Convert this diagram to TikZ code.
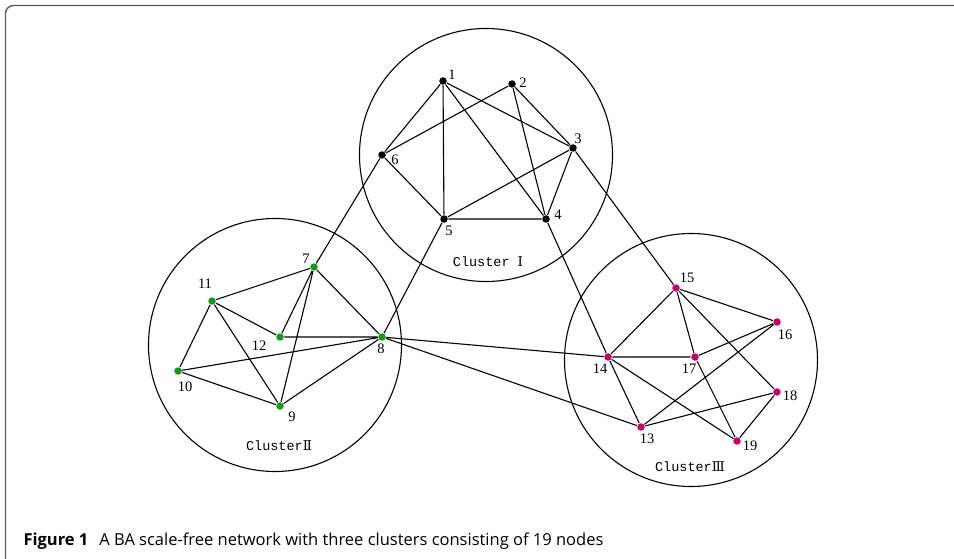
\documentclass[tikz,border=0pt]{standalone}
\usepackage{fontspec}
\setmainfont{Liberation Serif}
\newfontfamily\clusterfont{Liberation Mono}
\newfontfamily\romanfont{DejaVu Serif}
\newfontfamily\captionfont{Open Sans}
\usepackage{tikz}
\definecolor{FrameGray}{HTML}{5A5A5A}
\definecolor{NodeGreen}{HTML}{149A14}
\definecolor{NodeMagenta}{HTML}{C4006C}

\begin{document}
\begin{tikzpicture}[x=1pt, y=-1pt, line width=1.1pt,
        cluster/.style={draw, circle, minimum size=253pt, inner sep=0pt},
        dot/.style={circle, fill=#1, inner sep=0pt, minimum size=7.5pt},
        num/.style={font=\fontsize{14.5}{15}\selectfont, inner sep=0pt},
        ctext/.style={font=\clusterfont\fontsize{13.5}{14}\selectfont, inner sep=0pt}]
        \useasboundingbox (0,0) rectangle (954,559);

        % Frame
        \draw[FrameGray, line width=1.4pt, rounded corners=8pt]
            (5.5,559) -- (5.5,5.5) -- (954,5.5);

        % Cluster circles
        \node[cluster] (c1) at (486,155) {};
        \node[cluster] (c2) at (275,345) {};
        \node[cluster] (c3) at (691,360) {};

        % Cluster I
        \node[dot=black] (n1) at (443,81)  {};
        \node[dot=black] (n2) at (512,84)  {};
        \node[dot=black] (n3) at (573,148) {};
        \node[dot=black] (n4) at (546,219) {};
        \node[dot=black] (n5) at (444,219) {};
        \node[dot=black] (n6) at (382,155) {};

        % Cluster II
        \node[dot=NodeGreen] (n7)  at (314,267) {};
        \node[dot=NodeGreen] (n8)  at (382,337) {};
        \node[dot=NodeGreen] (n9)  at (280,406) {};
        \node[dot=NodeGreen] (n10) at (178,371) {};
        \node[dot=NodeGreen] (n11) at (212,301) {};
        \node[dot=NodeGreen] (n12) at (280,337) {};

        % Cluster III
        \node[dot=NodeMagenta] (n13) at (641,427) {};
        \node[dot=NodeMagenta] (n14) at (608,357) {};
        \node[dot=NodeMagenta] (n15) at (676,288) {};
        \node[dot=NodeMagenta] (n16) at (777,322) {};
        \node[dot=NodeMagenta] (n17) at (695,357) {};
        \node[dot=NodeMagenta] (n18) at (777,392) {};
        \node[dot=NodeMagenta] (n19) at (737,441) {};

        % Edges inside the clusters
        \draw (n1) -- (n6) (n1) -- (n5) (n1) -- (n3) (n1) -- (n4);
        \draw (n2) -- (n6) (n2) -- (n3) (n2) -- (n4);
        \draw (n6) -- (n5) (n5) -- (n4) (n5) -- (n3) (n3) -- (n4);
        \draw (n7) -- (n11) (n7) -- (n12) (n7) -- (n9) (n7) -- (n8);
        \draw (n11) -- (n12) (n11) -- (n10) (n11) -- (n9);
        \draw (n12) -- (n8) (n10) -- (n8) (n10) -- (n9) (n9) -- (n8);
        \draw (n15) -- (n14) (n15) -- (n17) (n15) -- (n16) (n15) -- (n18);
        \draw (n14) -- (n17) (n14) -- (n13) (n14) -- (n19);
        \draw (n17) -- (n16) (n17) -- (n19) (n16) -- (n13);
        \draw (n13) -- (n18) (n18) -- (n19);

        % Edges between the clusters
        \draw (n6) -- (n7) (n5) -- (n8) (n3) -- (n15) (n4) -- (n14);
        \draw (n8) -- (n14) (n8) -- (n13);

        % Node numbers
        \node[num] (t1)  at (452,75)  {1};
        \node[num] (t2)  at (523,83)  {2};
        \node[num] (t3)  at (578,139) {3};
        \node[num] (t4)  at (558,215) {4};
        \node[num] (t5)  at (449,231) {5};
        \node[num] (t6)  at (395,160) {6};
        \node[num] (t7)  at (306,259) {7};
        \node[num] (t8)  at (381,349) {8};
        \node[num] (t9)  at (292,417) {9};
        \node[num] (t10) at (185,387) {10};
        \node[num] (t11) at (205,284) {11};
        \node[num] (t12) at (259,346) {12};
        \node[num] (t13) at (647,439) {13};
        \node[num] (t14) at (600,369) {14};
        \node[num] (t15) at (687,278) {15};
        \node[num] (t16) at (785,335) {16};
        \node[num] (t17) at (689,369) {17};
        \node[num] (t18) at (790,396) {18};
        \node[num] (t19) at (750,446) {19};

        % Cluster names
        \node[ctext] (l1) at (488,262) {Cluster {\romanfont Ⅰ}};
        \node[ctext] (l2) at (279,446) {Cluster{\romanfont Ⅱ}};
        \node[ctext] (l3) at (690,467) {Cluster{\romanfont Ⅲ}};

        % Caption
        \node[anchor=base west, inner sep=0pt, font=\captionfont\fontsize{16.5}{18}\selectfont]
            (cap) at (23,545) {\textbf{Figure 1}\hspace{11pt}A BA scale-free network with three clusters consisting of 19 nodes};
      \end{tikzpicture}
\end{document}
